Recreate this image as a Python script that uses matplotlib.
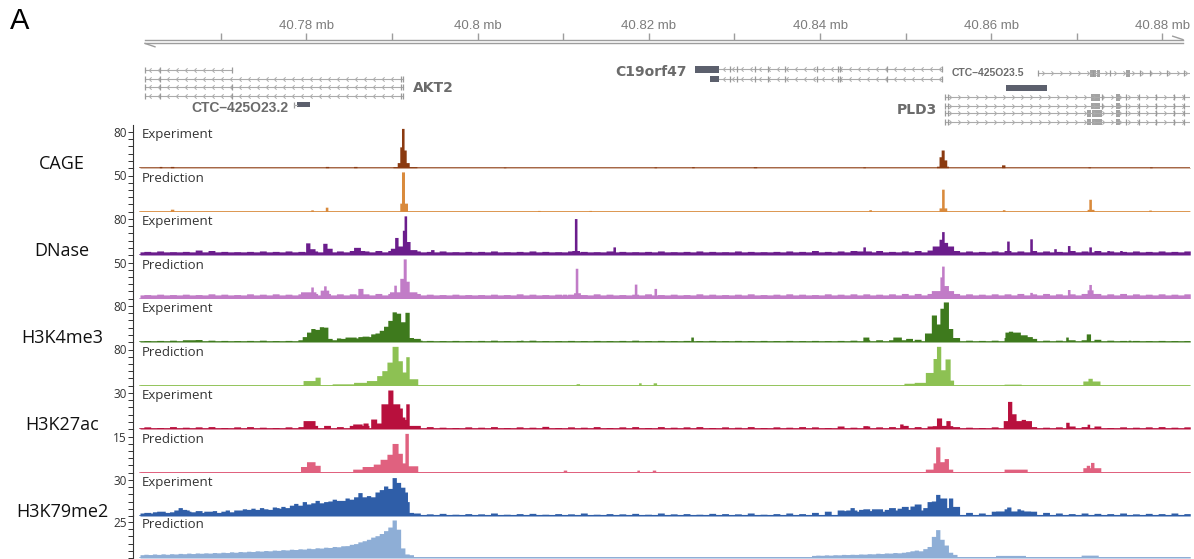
import matplotlib.pyplot as plt
import numpy as np
from matplotlib.path import Path

plt.rcParams['font.family'] = ['Open Sans', 'DejaVu Sans']

W, H = 1194, 559
# positions are kb offsets from chr19 40.76 Mb
x_left, x_right = 0.55, 123.22
ruler_ticks = [10, 20, 30, 40, 50, 60, 70, 80, 90, 100, 110, 120]
ruler_labels = {20: "40.78 mb", 40: "40.8 mb", 60: "40.82 mb",
                80: "40.84 mb", 100: "40.86 mb", 120: "40.88 mb"}

assays = ["CAGE", "DNase", "H3K4me3", "H3K27ac", "H3K79me2"]
kinds = ["Experiment", "Prediction"]
track_max = [80, 50, 80, 50, 80, 80, 30, 15, 30, 25]
track_base = [0.8, 0.6, 7, 5, 1.8, 1.5, 0.8, 0.4, 1.3, 1.0]
track_colors = ["#8b3a10", "#d98a3c", "#6b1d8c", "#c17cc7", "#3e7a1d",
                "#8dc153", "#b8103d", "#e0617f", "#2f5ea8", "#8eaed6"]

# peaks as (start kb, end kb, value)
cage_exp = [(2.8, 3.1, 3.5), (4.1, 4.5, 3.5), (22.2, 22.6, 3.5), (25.5, 25.9, 3.5),
            (30.1, 32.9, 3), (30.6, 31.0, 12), (30.9, 31.15, 47), (31.1, 31.4, 88),
            (31.4, 31.65, 40), (31.65, 32.0, 12), (43.0, 43.3, 2), (60.6, 60.9, 2.5),
            (65.0, 65.3, 3), (72.2, 72.6, 3), (85.0, 85.3, 2.5), (93.6, 95.0, 4),
            (93.9, 94.2, 25), (94.15, 94.5, 40), (94.5, 94.8, 18), (101.2, 101.6, 7),
            (111.3, 111.6, 2.5), (118.5, 118.8, 2.5)]
cage_pred = [(4.1, 4.5, 3.2), (20.5, 20.8, 2.3), (22.2, 22.5, 6), (30.9, 31.8, 11.6),
             (31.1, 31.45, 55), (47.0, 47.3, 1.5), (53.0, 53.3, 1.5), (85.7, 86.0, 2.5),
             (93.9, 94.8, 5), (94.2, 94.5, 31), (101.3, 101.6, 2.5), (111.2, 112.0, 3),
             (111.4, 111.7, 17), (118.4, 118.7, 2)]
dnase_exp = [(19.9, 20.4, 27), (20.4, 21.0, 14), (21.9, 22.4, 26), (22.4, 23.0, 15),
             (25.5, 26.3, 17), (26.3, 26.8, 10), (29.8, 30.3, 15), (30.3, 30.7, 39),
             (30.7, 31.2, 20), (31.2, 31.5, 55), (31.4, 31.7, 87), (31.7, 32.1, 30),
             (32.1, 32.9, 12), (34.5, 34.9, 12), (51.0, 51.9, 10), (51.3, 51.6, 81),
             (55.8, 56.1, 18), (84.0, 86.0, 9), (85.0, 85.3, 18), (93.1, 95.6, 20),
             (93.9, 94.3, 35), (94.2, 94.5, 52), (94.5, 94.9, 28), (101.8, 102.1, 31),
             (104.5, 104.8, 36), (107.3, 107.6, 14), (108.9, 109.2, 21), (111.4, 111.7, 18),
             (113.5, 113.8, 10), (115.0, 115.3, 10)]
dnase_pred = [(19.3, 21.1, 9.3), (20.5, 20.8, 16), (21.6, 22.6, 11.6), (22.0, 22.3, 17.6),
              (26.0, 26.6, 14), (29.7, 32.9, 9.3), (30.2, 30.5, 18.5), (30.9, 31.3, 28),
              (31.3, 31.65, 55), (31.65, 32.0, 24), (49.9, 50.4, 6), (51.2, 52.0, 8),
              (51.4, 51.7, 42), (58.3, 58.6, 20), (60.6, 60.9, 14), (93.0, 95.6, 11),
              (94.0, 94.5, 30), (94.2, 94.5, 45), (94.5, 95.0, 18), (103.3, 103.6, 7),
              (104.5, 104.8, 8.5), (108.9, 109.2, 12.5), (110.5, 112.5, 7), (111.2, 111.9, 12),
              (111.4, 111.7, 19.5), (113.5, 113.8, 6)]
h3k4_exp = [(5.5, 7.5, 5), (33.0, 33.5, 4), (40.0, 40.3, 3.5), (45.0, 45.3, 4),
            (64.9, 65.2, 11), (85.0, 85.7, 11), (88.5, 89.5, 11), (90.0, 90.8, 8),
            (92.2, 93.0, 20), (93.0, 93.6, 60), (93.6, 94.0, 40), (94.0, 94.4, 75),
            (94.4, 95.0, 89), (95.0, 95.5, 30), (95.5, 96.0, 8), (101.6, 103.4, 22),
            (102.0, 102.5, 24), (103.4, 104.2, 16), (104.2, 104.8, 12), (108.7, 109.0, 11),
            (111.1, 111.6, 18), (116.0, 116.3, 4), (119.5, 119.8, 3.5)]
h3k4_pred = [(19.6, 21.6, 11), (21.0, 21.6, 18.5), (23.0, 25.5, 3.7), (25.5, 27.0, 7),
             (27.0, 28.2, 11), (28.2, 28.8, 22), (28.8, 29.4, 33), (29.4, 30.0, 52),
             (30.0, 30.7, 87), (30.7, 31.2, 55), (31.2, 31.6, 30), (31.6, 32.0, 64),
             (32.0, 33.0, 15), (51.5, 51.9, 4), (58.8, 59.1, 6), (60.5, 60.9, 6),
             (89.8, 91.0, 5), (91.0, 92.3, 7), (92.3, 93.2, 29), (93.2, 93.6, 60),
             (93.6, 94.1, 87), (94.1, 94.6, 35), (94.6, 95.2, 59), (95.2, 95.6, 12),
             (101.5, 103.5, 3), (110.7, 112.7, 10), (111.3, 111.8, 16)]
h3k27_exp = [(19.6, 21.0, 7), (25.4, 26.5, 4.2), (26.6, 27.2, 5), (27.5, 28.2, 8.3),
             (28.7, 29.5, 21), (29.5, 30.1, 32.5), (30.1, 30.9, 21), (30.9, 31.2, 17.5),
             (31.2, 31.5, 10), (31.6, 32.0, 21), (32.0, 32.6, 3), (85.0, 85.6, 2.8),
             (89.3, 89.7, 4.2), (93.1, 95.5, 2.8), (93.6, 94.2, 9.2), (94.7, 95.2, 7),
             (101.4, 104.7, 7), (101.9, 102.4, 23), (102.4, 102.9, 12.7), (103.5, 104.0, 8),
             (108.7, 109.1, 5.6), (111.2, 111.5, 4)]
h3k27_pred = [(19.3, 20.0, 2.5), (20.0, 21.0, 4.5), (21.0, 21.6, 3), (25.4, 26.5, 1.4),
              (26.5, 27.8, 2.5), (27.8, 28.6, 3.5), (28.6, 29.4, 5.5), (29.4, 30.0, 7.6),
              (30.0, 30.7, 12.1), (30.7, 31.2, 8), (31.2, 31.6, 4), (31.5, 31.9, 16.3),
              (31.9, 33.0, 2.8), (50.0, 50.4, 1), (58.6, 58.9, 1), (60.4, 60.8, 1),
              (92.3, 95.5, 1.4), (93.2, 93.5, 4), (93.5, 94.0, 10.7), (94.0, 94.5, 4.5),
              (94.5, 95.0, 5.8), (101.5, 104.2, 1.4), (110.7, 112.8, 2), (111.1, 111.5, 3),
              (111.6, 112.0, 4.2)]
h3k79_exp = [(100.5, 104.6, 4.2), (101.8, 102.3, 7.5), (103.0, 103.4, 6)]
h3k79_pred = [(100.5, 104.0, 1.8), (110.5, 112.5, 2)]

# binned coverage for broad domains: (start kb, bin width kb, values)
h3k4_exp_bins = [(19.0, 0.5, [4, 12, 22, 30, 28, 34, 33, 8, 5, 9, 8, 11, 10, 9,
                              12, 13, 12, 18, 20, 26, 35, 48, 67, 64, 45, 66, 10, 4])]
h3k79_exp_bins = [(0.5, 0.5, [2.5, 3, 2.5, 3.5, 3, 4, 3, 3.5, 5, 7, 5.5, 4, 3.5, 4.5, 3, 4,
                              3.5, 4.5, 3, 4, 5, 3.5, 4.5, 5, 6, 5, 6.5, 5.5, 7, 6, 5.5, 7.5,
                              6.5, 8, 7, 9, 10.5, 8.5, 12, 10, 9, 13, 11, 10, 12.5, 14, 11.5, 13,
                              15, 12.5, 16, 19.5, 14, 17, 16, 20, 22, 25, 23, 32, 28, 24, 12, 3]),
                  (82.0, 0.5, [3.5, 4.5, 5, 7, 4, 5.5, 3.5, 4.5, 6, 5, 4, 5.5,
                               7, 5, 6.5, 4.5, 5.5, 8.3, 6, 5, 7, 6, 12.5, 18, 8, 7, 15, 3])]
h3k79_pred_bins = [(0.5, 0.5, [2.3, 2.6, 2.4, 2.8, 2.5, 2.9, 2.6, 3.0, 2.8, 3.2, 3.0, 3.4,
                               3.1, 3.5, 3.3, 3.6, 3.4, 3.8, 3.6, 4.0, 3.8, 4.3, 4.0, 4.5,
                               4.3, 4.7, 4.5, 5.0, 4.8, 5.2, 5.0, 5.5, 5.3, 5.8, 5.6, 6.1,
                               5.9, 6.4, 6.2, 6.8, 6.5, 7.1, 6.9, 7.5, 7.3, 8.0, 7.8, 8.5,
                               8.6, 9.5, 10.0, 11.2, 12.0, 13.0, 14.5, 15.5, 17.0, 19.0,
                               21.5, 26.4, 20.0, 7.0, 2.8, 2.3]),
                   (79.0, 0.5, [1.8, 2.0, 1.9, 2.2, 2.0, 2.3, 2.2, 2.5, 2.4, 2.6, 2.5, 2.8,
                                2.7, 3.0, 2.9, 3.3, 3.1, 3.5, 3.4, 3.8, 3.6, 4.0, 4.4, 5.0,
                                5.5, 5.0, 6.5, 8.0, 15.0, 19.7, 13.0, 9.0, 4.0, 2.5])]

# background texture sampled every 1.5 kb from 1.0 kb
noise_kb = np.arange(1.0, 123.0, 1.5)
dnase_exp_noise = [8, 9, 7.5, 8, 11, 10, 8, 7.5, 8, 9, 8, 9, 8, 9, 9, 9, 10, 9, 10, 10, 10,
                   9, 8, 9, 7.5, 8, 8, 9, 7.5, 8, 9, 8, 7.5, 9, 8, 7.5, 9, 8, 7.5, 8, 9,
                   7.5, 8, 9, 8, 7.5, 9, 8, 7.5, 8, 9, 8, 10, 8, 9, 10, 9, 10, 8, 9, 10,
                   11, 12, 10, 9, 8, 9, 10, 9, 10, 9, 8, 10, 9, 10, 9, 8, 9, 8, 9, 8, 9]
dnase_pred_noise = [5.5, 6, 5.5, 6, 5.5, 6.5, 6, 5.5, 6.5, 6, 6.5, 6, 6.5, 7, 7, 6.5, 6.5,
                    6.5, 7, 7, 8, 7, 6, 5.5, 6, 5.5, 5.5, 6, 5.5, 6.5, 6, 5.5, 6, 6, 5.5,
                    6.5, 6, 5.5, 6, 6.5, 5.5, 6, 5.5, 6.5, 6, 5.5, 6, 6.5, 5.5, 6, 6.5, 6,
                    5.5, 6.5, 6, 6.5, 6.5, 6, 6.5, 7, 7, 7, 8, 7, 6.5, 6, 6.5, 6.5, 7, 6.5,
                    7, 6.5, 6.5, 7, 7, 6.5, 7, 6.5, 6, 6.5, 6, 6.5]
h3k4_exp_noise = [3, 3.5, 4, 5, 5.5, 4, 3.5, 3, 3.5, 4, 3, 3.5, 5, 8, 8, 8, 11, 13, 20,
                  30, 20, 8, 3.5, 3, 3.5, 3, 3.5, 4, 3, 3.5, 4, 3, 3, 3.5, 3, 3.5, 3, 3.5,
                  4, 3, 3.5, 3, 3.5, 3, 3.5, 3, 3.5, 3, 3.5, 3, 3.5, 3, 3.5, 3, 3.5, 4, 5,
                  5, 5, 5, 6, 8, 20, 10, 4, 3.5, 4, 10, 12, 8, 4, 4, 5, 5, 6, 4, 3.5, 3.5,
                  3, 3.5, 3, 3]
h3k27_exp_noise = [1.8, 1.2, 2, 1.5, 1.8, 2, 1.2, 1.8, 2, 1.5, 1.2, 1.8, 2, 3, 3, 2, 3, 3,
                   5, 8, 8, 3, 2, 1.5, 1.2, 1.8, 1.5, 2, 1.2, 1.8, 1.5, 2.2, 1.2, 1.8, 1.5,
                   2, 1.2, 1.8, 2, 1.2, 2, 1.5, 1.8, 2, 1.2, 1.8, 1.5, 2, 1.2, 1.8, 1.5, 2,
                   1.8, 1.2, 2.5, 1.5, 2.5, 1.8, 2, 3, 2, 2.5, 3, 2, 1.5, 1.2, 1.8, 3, 3, 2,
                   1.5, 1.8, 2.5, 2, 2.5, 1.2, 1.8, 1.5, 1.8, 2, 1.5, 1.8]
h3k79_exp_noise = [3, 4, 3.5, 5, 4.5, 4, 3.5, 5, 5.5, 6, 7, 6.5, 9, 11, 12, 13, 14, 16, 18,
                   22, 20, 2.5, 1.8, 2.2, 1.5, 2, 1.8, 2.5, 1.5, 2, 2.2, 1.5, 2, 1.8, 2.5,
                   1.5, 2, 1.8, 2.2, 1.5, 2.5, 1.8, 2, 1.5, 2.2, 2, 1.8, 2.5, 1.5, 2, 2.5,
                   2, 3, 4, 5, 5, 6, 6, 7, 8, 10, 12, 15, 8, 3, 2.5, 4, 6, 5, 4, 3, 2.5, 2,
                   2.5, 2.2, 2, 2.5, 1.8, 2.2, 2, 2.5, 2]

tracks = [(cage_exp, [], []), (cage_pred, [], []),
          (dnase_exp, [], dnase_exp_noise), (dnase_pred, [], dnase_pred_noise),
          (h3k4_exp, h3k4_exp_bins, h3k4_exp_noise), (h3k4_pred, [], []),
          (h3k27_exp, [], h3k27_exp_noise), (h3k27_pred, [], []),
          (h3k79_exp, h3k79_exp_bins, h3k79_exp_noise), (h3k79_pred, h3k79_pred_bins, [])]

# gene models: (row y, start, end, strand, exon ticks, exon blocks)
akt2 = [(70, 1.13, 11.35, -1, [1.13, 2.89, 11.35], []),
        (79, 1.13, 31.27, -1, [1.13, 2.89, 31.1, 31.27], []),
        (87.3, 1.13, 31.27, -1, [1.13, 2.89, 11.35, 31.1, 31.27], []),
        (95.7, 1.13, 31.27, -1, [1.13, 2.89, 11.35, 31.1, 31.27], [])]
c19_exons = [69.51, 70.3, 72.4, 73.92, 75.9, 79.64, 82.09, 82.3, 87.82, 94.2]
c19orf47 = [(69.3, 68.22, 94.3, -1, c19_exons, [(65.39, 68.22)]),
            (79, 68.22, 94.3, -1, c19_exons, [(67.14, 68.22)])]
ctc5 = [(73.3, 105.46, 124.0, 1, [105.46, 111.9, 113.9, 117.4, 118.6, 120.5, 122.5],
         [(111.5, 112.2), (112.4, 112.7), (115.7, 116.2)])]
pld3_exons = [94.6, 94.9, 112.9, 115.8, 117.3, 119.3, 121.3, 122.5]
pld3 = [(97.3, 94.6, 124.0, 1, pld3_exons, [(111.6, 112.7), (114.6, 115.0)]),
        (105.7, 94.6, 124.0, 1, pld3_exons, [(111.6, 112.7), (114.6, 115.0)]),
        (113.3, 94.6, 124.0, 1, pld3_exons[:2] + pld3_exons[3:],
         [(111.2, 111.6), (111.8, 112.9), (114.6, 115.0)]),
        (121.7, 94.6, 124.0, 1, pld3_exons[:2] + pld3_exons[3:],
         [(111.2, 111.6), (111.8, 112.9), (114.6, 115.0)])]
dark_blocks = [(104.5, 18.89, 20.41), (88.0, 101.72, 106.51)]


def px_axes(left, top, right, bottom):
    return fig.add_axes([left / W, 1 - bottom / H, (right - left) / W, (bottom - top) / H])


def signal(peaks, bins, noise, base, step=0.05):
    x = np.arange(x_left, x_right + step, step)
    y = np.full_like(x, base)
    segs = list(peaks)
    for start, width, vals in bins:
        segs += [(start + j * width, start + (j + 1) * width, v) for j, v in enumerate(vals)]
    segs += [(k, k + 0.8, v) for k, v in zip(noise_kb, noise)]
    for s, e, v in segs:
        m = (x >= s) & (x < e)
        y[m] = np.maximum(y[m], v)
    return x, y


fig = plt.figure(figsize=(W / 100, H / 100), dpi=100)
xlim = (x_left - 7 / 8.56, x_right)

# ruler and gene annotation
gx = px_axes(133, 0, 1190, 126)
gx.set_xlim(*xlim)
gx.set_ylim(126, 0)
gx.axis('off')
ruler_c = '#9d9d9d'
gx.plot([1.13, 122.4], [39.6, 39.6], color=ruler_c, lw=1.0)
gx.plot([1.13, 122.4], [43.4, 43.4], color=ruler_c, lw=1.0)
gx.plot([1.13, 2.3], [43.4, 46.8], color=ruler_c, lw=1.0)
gx.plot([122.4, 121.2], [39.6, 36.2], color=ruler_c, lw=1.0)
gx.vlines(ruler_ticks, 33, 39.6, color=ruler_c, lw=1.0)
for t, lab in ruler_labels.items():
    gx.text(t, 26, lab, ha='center', va='center', fontsize=9.5,
            color='#7c7c7c', family='Liberation Sans')

line_c = '#ababab'
left_chev = Path([(0.5, 1), (-0.5, 0), (0.5, -1)], [Path.MOVETO, Path.LINETO, Path.LINETO])
right_chev = Path([(-0.5, 1), (0.5, 0), (-0.5, -1)], [Path.MOVETO, Path.LINETO, Path.LINETO])
for gene in (akt2, c19orf47, ctc5, pld3):
    for y, s, e, strand, ticks, blocks in gene:
        gx.plot([s, e], [y, y], color=line_c, lw=0.8)
        cx = np.arange(s + 0.55, e - 0.3, 1.05)
        gx.plot(cx, np.full_like(cx, y), ls='none', color=line_c, mec=line_c, mfc='none',
                marker=left_chev if strand < 0 else right_chev, ms=3.2, mew=0.7)
        gx.vlines(ticks, y - 3, y + 3, color='#9a9a9a', lw=0.9)
        for b0, b1 in blocks:
            col = '#5c606d' if gene is c19orf47 else '#a3a3a3'
            gx.broken_barh([(b0, b1 - b0)], (y - 3.2, 6.4), color=col, lw=0)
for y, b0, b1 in dark_blocks:
    gx.broken_barh([(b0, b1 - b0)], (y - 2.8, 5.6), color='#5c606d', lw=0)
gx.vlines([18.54], 101.5, 107.5, color='#9a9a9a', lw=0.9)
gx.plot([18.54, 18.89], [104.5, 104.5], color=line_c, lw=0.8)

gene_c = '#6b6b6b'
gx.text(32.44, 87.5, "AKT2", ha='left', va='center', fontsize=10, fontweight='bold',
        color=gene_c, family='DejaVu Sans')
gx.text(17.84, 108.5, "CTC\u2013425O23.2", ha='right', va='center', fontsize=10,
        fontweight='bold', color=gene_c, family='Liberation Sans')
gx.text(64.45, 72.5, "C19orf47", ha='right', va='center', fontsize=10, fontweight='bold',
        color=gene_c, family='DejaVu Sans')
gx.text(93.7, 110, "PLD3", ha='right', va='center', fontsize=10, fontweight='bold',
        color=gene_c, family='DejaVu Sans')
gx.text(95.4, 73.5, "CTC\u2013425O23.5", ha='left', va='center', fontsize=7.5,
        fontweight='bold', color=gene_c, family='Liberation Sans')

# signal tracks
for i, ((peaks, bins, noise), vmax, base, col) in enumerate(
        zip(tracks, track_max, track_base, track_colors)):
    yb = min(168 + 43.5 * i, 558)
    ax = px_axes(133, yb - 43.5, 1190, yb)
    ax.set_xlim(*xlim)
    ax.set_ylim(0, vmax * 43.5 / 36)
    x, y = signal(peaks, bins, noise, base)
    ax.fill_between(x, 0, y, step='post', color=col, lw=0)
    ax.plot([x_left, x_right], [0, 0], color=col, lw=1.1)
    for side in ('top', 'right', 'bottom'):
        ax.spines[side].set_visible(False)
    ax.spines['left'].set_linewidth(0.8)
    ax.spines['left'].set_color('#333333')
    ax.set_xticks([])
    ax.set_yticks(np.linspace(0, vmax, 6))
    ax.set_yticklabels([''] * 5 + [str(vmax)])
    ax.tick_params(axis='y', direction='out', length=3.5, width=0.7, pad=1,
                   labelsize=8.5, colors='#333333')
    ax.patch.set_alpha(0)
    ax.text(0.75, 0.76, kinds[i % 2], transform=ax.get_xaxis_transform(),
            ha='left', va='center', fontsize=9.5, color='#333333')
    if i % 2 == 0:
        fig.text(62 / W, 1 - (yb - 4) / H, assays[i // 2], ha='center', va='center',
                 fontsize=13, color='#111111')

fig.text(10 / W, 1 - 21 / H, "A", ha='left', va='center', fontsize=21,
         family='Liberation Sans')

fig.savefig("out.png", dpi=100)
